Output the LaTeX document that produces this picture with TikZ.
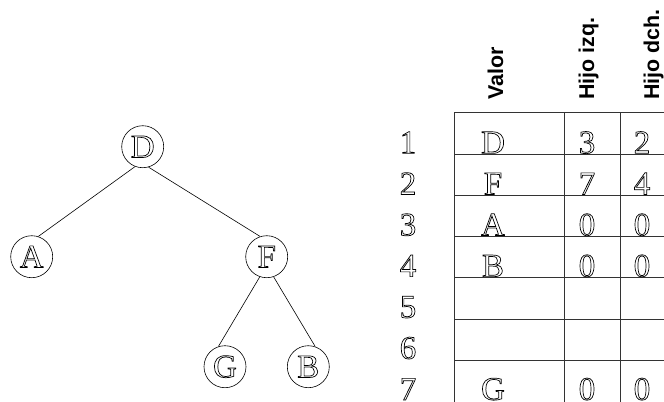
\documentclass[tikz,border=0pt]{standalone}
\usepackage{fontspec}
\setmainfont{Liberation Serif}
\newfontfamily\headfont{Liberation Sans}
\usetikzlibrary{calc}
% hollow letters, as in the drawing
\newcommand{\hollow}[1]{\special{pdf:literal direct 1 Tr 0.7 w}#1\special{pdf:literal direct 0 Tr}}

\begin{document}
\begin{tikzpicture}[x=1bp, y=-1bp,
    key/.style={draw, circle, line width=0.6bp, minimum size=42bp, inner sep=0pt,
      font=\fontsize{33}{36}\selectfont},
    cell/.style={anchor=base, inner sep=0pt, font=\fontsize{33}{36}\selectfont},
    head/.style={rotate=90, anchor=base west, inner sep=0pt,
      font=\headfont\bfseries\fontsize{21.5}{24}\selectfont},
    grid/.style={line width=0.6bp, black!80}]
  \useasboundingbox (0,0) rectangle (664,401);
    % tree
    \node[key] (D) at (142.7,146.7) {\hollow{D}};
    \node[key] (A) at (31.7,256.7) {\hollow{A}};
    \node[key] (F) at (266.7,256.7) {\hollow{F}};
    \node[key] (G) at (225,366.7) {\hollow{G}};
    \node[key] (B) at (308.3,366.7) {\hollow{B}};
    \draw[line width=0.6bp] (D.-111) -- (A.72);
    \draw[line width=0.6bp] (D.-74) -- (F.108);
    \draw[line width=0.6bp] (F.-109) -- (G.108);
    \draw[line width=0.6bp] (F.-71) -- (B.71);
    % column heads
    \node[head] (valor) at (503,100) {Valor};
    \node[head] (izq) at (594,100) {Hijo izq.};
    \node[head] (dch) at (659,100) {Hijo dch.};
    % horizontal lines
    \foreach \k in {0,...,6}
      \draw[grid] (454,112.5+41.3*\k) -- (670,112.5+41.3*\k);
    % vertical lines
    \foreach \x in {454,564.7,620}
      \draw[grid] (\x,112.5) -- (\x,405);
    % rows
    \foreach \v/\l/\r [count=\n] in {D/3/2, F/7/4, A/0/0, B/0/0, {}/{}/{}, {}/{}/{}, G/0/0} {
      \node[cell] (row\n) at (408,153.3+41.1*\n-41.1) {\hollow{\n}};
      \node[cell] (val\n) at (493,153.3+41.1*\n-41.1) {\hollow{\v}};
      \node[cell] (izq\n) at (587,153.3+41.1*\n-41.1) {\hollow{\l}};
      \node[cell] (dch\n) at (642,153.3+41.1*\n-41.1) {\hollow{\r}};
    }
\end{tikzpicture}
\end{document}
